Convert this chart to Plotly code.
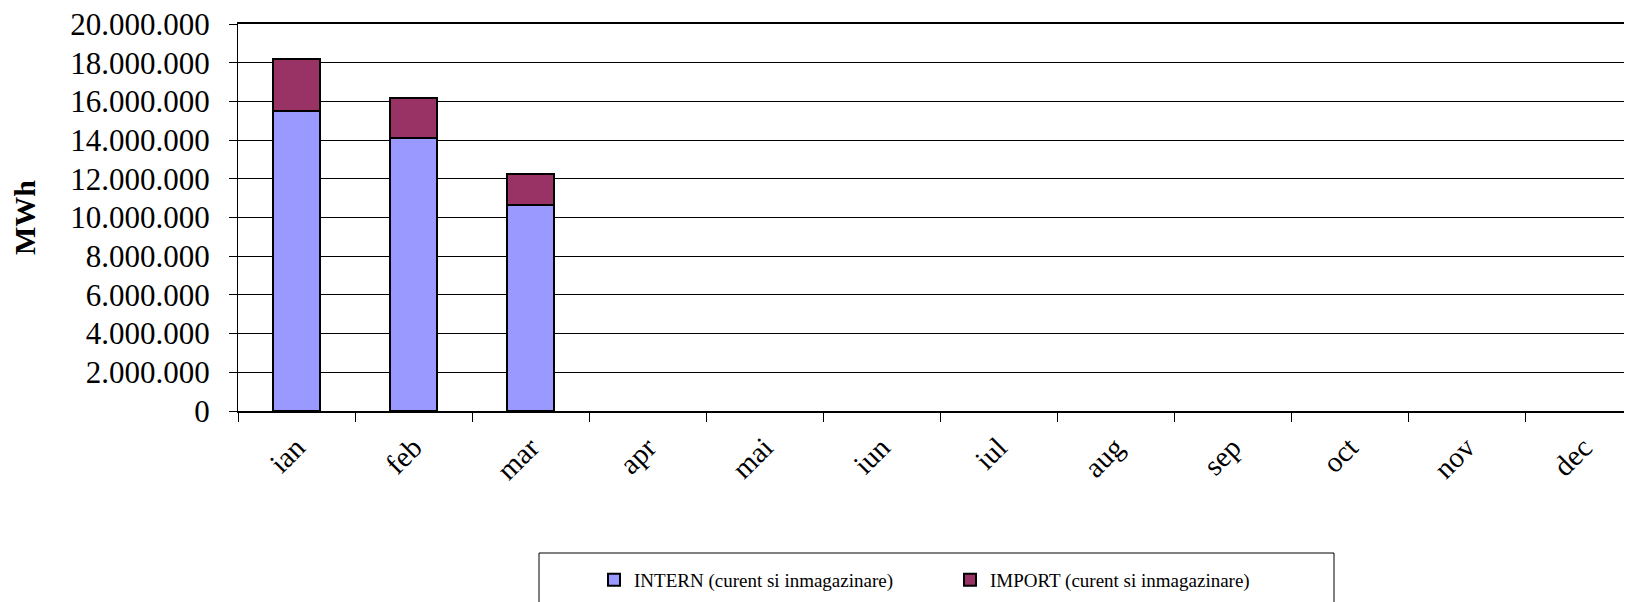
import plotly.graph_objects as go

months = ["ian", "feb", "mar", "apr", "mai", "iun", "iul", "aug", "sep", "oct", "nov", "dec"]
intern = [15500000, 14100000, 10630000, None, None, None, None, None, None, None, None, None]
import_ = [2680000, 2060000, 1630000, None, None, None, None, None, None, None, None, None]
y_ticks = [0, 2000000, 4000000, 6000000, 8000000, 10000000, 12000000, 14000000, 16000000, 18000000, 20000000]

# page body adds an 8px margin, so the figure is drawn 8px smaller
OFF = 8
W, H = 1632 - OFF, 602 - OFF
L, T, B = 238 - OFF, 24 - OFF, 191
plot_w, plot_h = W - L, H - T - B


def px_x(p):
    # screen x -> paper fraction
    return (p - OFF - L) / plot_w


def px_y(p):
    # screen y -> paper fraction
    return (H - B - (p - OFF)) / plot_h


serif = "Liberation Serif"

fig = go.Figure()
fig.add_trace(go.Bar(
    x=months, y=intern, name="INTERN (curent si inmagazinare)",
    marker=dict(color="#9999FF", line=dict(color="black", width=2)),
))
fig.add_trace(go.Bar(
    x=months, y=import_, name="IMPORT (curent si inmagazinare)",
    marker=dict(color="#993366", line=dict(color="black", width=2)),
))

fig.update_layout(
    width=W, height=H,
    barmode="stack", bargap=0.6,
    separators=",.",
    plot_bgcolor="white", paper_bgcolor="white",
    margin=dict(l=L, r=0, t=T, b=B, autoexpand=False),
    font=dict(family=serif, color="black"),
    legend=dict(
        orientation="h", traceorder="normal",
        x=px_x(594), y=px_y(580), xanchor="left", yanchor="middle",
        font=dict(size=19, family=serif), entrywidth=311, bgcolor="rgba(0,0,0,0)",
    ),
    shapes=[dict(
        type="rect", xref="paper", yref="paper",
        x0=px_x(539), x1=px_x(1334), y0=px_y(553), y1=px_y(615),
        line=dict(color="black", width=1),
    )],
)

fig.update_xaxes(
    range=[-0.5, -0.5 + plot_w / 117.0],
    tickangle=-45, tickfont=dict(size=29, family=serif),
    ticks="outside", tickson="boundaries", ticklen=9, tickcolor="black",
    ticklabelstandoff=6,
    showline=True, linecolor="black", linewidth=2, mirror=True, showgrid=False,
)
fig.update_yaxes(
    range=[0, 20000000], tickvals=y_ticks, tickformat=",d",
    tickfont=dict(size=31, family=serif),
    ticks="outside", ticklen=8, tickcolor="black",
    ticklabelstandoff=13, ticklabeloverflow="allow",
    showline=True, linecolor="black", linewidth=1,
    showgrid=True, gridcolor="black", gridwidth=1,
    zeroline=False,
    title=dict(text="<b>MWh</b>", font=dict(size=30, family=serif), standoff=36),
)

fig.write_html("out.html")
